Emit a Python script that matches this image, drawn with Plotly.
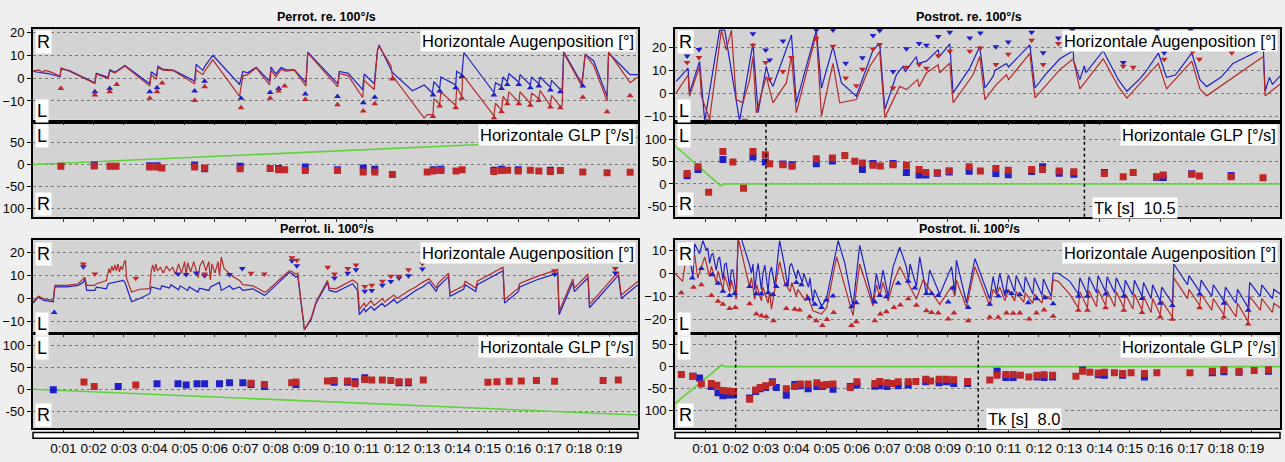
import plotly.graph_objects as go

W, H = 1285, 462
FONT = "Arial, Liberation Sans, sans-serif"
BLUE = "#2020c8"
RED = "#c02828"
RED_LINE = "#b52a2a"
GREEN = "#5fd23a"

TITLES = ["Perrot. re. 100°/s", "Postrot. re. 100°/s", "Perrot. li. 100°/s", "Postrot. li. 100°/s"]
EYE_LABEL = "Horizontale Augenposition [°]"
GLP_LABEL = "Horizontale GLP [°/s]"
TIME_TICKS = list(range(1, 20))
TIME_LABELS = ["0:%02d" % s for s in TIME_TICKS]

# ---------------- Perrot. re. ----------------
PRE_RE_EYE_BLUE = [[0.0,2.9],[0.3,2.4],[0.5,2.0],[0.89,0.6],[0.93,4.0],[1.2,3.3],[2.04,-2.0],[2.09,2.1],[2.48,0.3],[2.53,3.6],[2.70,2.6],[3.03,5.5],[3.85,-2.5],[3.90,2.8],[4.07,1.0],[4.12,5.2],[4.29,3.8],[4.62,3.5],[5.33,-1.3],[5.38,6.0],[5.60,3.4],[5.66,5.0],[5.93,10.0],[6.81,-2.8],[6.92,2.9],[7.08,2.3],[7.36,4.7],[7.80,-1.4],[7.85,4.8],[8.01,1.8],[8.18,4.6],[8.34,3.6],[8.62,3.6],[9.00,-2.0],[9.06,11.4],[10.05,-2.5],[10.10,2.9],[10.40,2.1],[10.87,-5.0],[10.92,1.8],[11.25,-2.5],[11.36,12.0],[11.41,14.5],[11.85,2.5],[12.51,-5.5],[12.9,-3.0],[13.17,-6.5],[13.22,-1.5],[13.41,-4.5],[13.45,0.5],[13.94,-3.0],[13.97,3.0],[14.14,1.5],[14.21,11.2],[15.2,-6.3],[15.25,-2.0],[15.45,-3.5],[15.5,0.5],[15.64,-1.5],[15.69,2.0],[16.02,-1.8],[16.06,1.5],[16.4,-3.0],[16.44,0.5],[16.68,-2.5],[16.72,0.5],[17.06,-4.0],[17.1,-1.0],[17.39,-5.0],[17.45,-4.5],[17.5,11.5],[18.1,-2.5],[18.21,10.5],[18.49,7.5],[18.93,-8.0],[18.98,11.0],[19.69,1.5],[19.95,1.5]]
PRE_RE_EYE_RED = [[0.0,3.2],[0.2,3.6],[0.3,2.5],[0.4,3.4],[0.6,2.6],[0.89,0.8],[0.93,4.5],[1.2,3.0],[2.04,-2.4],[2.09,1.8],[2.48,-0.2],[2.53,3.2],[2.70,2.2],[3.03,5.3],[3.85,-3.5],[3.90,1.5],[4.07,-0.5],[4.12,4.5],[4.29,3.5],[4.62,3.3],[5.33,-2.5],[5.38,3.5],[5.60,1.5],[5.66,3.0],[5.93,8.0],[6.81,-8.0],[6.92,1.0],[7.08,1.5],[7.36,4.5],[7.80,-3.0],[7.85,3.5],[8.01,0.5],[8.18,3.8],[8.34,3.0],[8.62,3.5],[9.00,-3.5],[9.06,11.0],[10.05,-3.8],[10.10,2.0],[10.40,1.0],[10.87,-8.5],[10.92,-1.0],[11.25,-5.0],[11.36,12.0],[11.41,14.0],[11.75,7.0],[11.8,5.5],[11.85,1.0],[12.9,-17.5],[13.0,-16.0],[13.19,-16.0],[13.22,-9.0],[13.41,-11.5],[13.45,-6.0],[13.94,-12.0],[13.97,-4.0],[14.14,-8.0],[14.17,1.4],[15.2,-16.5],[15.25,-11.0],[15.45,-14.0],[15.5,-8.0],[15.64,-10.5],[15.69,-6.0],[16.02,-10.5],[16.06,-6.0],[16.4,-11.0],[16.44,-6.5],[16.68,-9.0],[16.72,-5.5],[17.06,-12.0],[17.1,-7.5],[17.39,-12.5],[17.45,-12.0],[17.5,11.0],[18.1,-3.5],[18.21,10.5],[18.49,5.5],[18.93,-10.0],[18.98,11.5],[19.69,-2.0],[19.95,0.5]]
PRE_RE_TRI_BLUE = [[2.04,-6.0],[2.53,-4.6],[3.85,-6.0],[4.09,-4.2],[5.33,-5.6],[5.66,-1.4],[6.86,-8.8],[7.82,-6.3],[8.1,-4.6],[8.98,-7.0],[10.04,-8.0],[10.89,-10.8],[11.27,-8.4],[13.19,-7.4],[13.41,-5.6],[13.94,-4.2],[14.14,0.7],[15.2,-7.4],[15.45,-4.6],[15.64,-2.8],[16.02,-2.8],[16.4,-4.2],[16.68,-3.5],[17.06,-5.2],[17.39,-6.0],[18.13,-3.5]]
PRE_RE_TRI_RED = [[0.92,-4.6],[2.04,-7.4],[2.53,-6.0],[2.76,-2.8],[3.85,-8.8],[4.09,-6.0],[4.26,-2.1],[5.33,-9.8],[5.66,-3.8],[6.86,-13.0],[7.82,-8.8],[8.1,-5.6],[8.3,-3.5],[8.98,-9.4],[10.04,-11.7],[10.89,-14.4],[11.27,-11.2],[11.85,-0.4],[13.19,-16.8],[13.41,-12.2],[13.94,-13.0],[14.14,-8.8],[15.2,-17.5],[15.45,-14.7],[15.64,-11.2],[16.02,-11.2],[16.4,-11.9],[16.68,-9.8],[17.06,-12.6],[17.39,-13.0],[18.13,-8.4],[18.93,-14.7],[19.69,-7.7]]
PRE_RE_GLP_BLUE = [[2.02,0],[3.85,-2],[4.09,-2],[5.33,0],[5.66,-9],[6.83,-3],[8.1,-8],[8.98,-5],[10.04,-11],[10.89,-7],[11.27,-10],[13.2,-11],[13.45,-10],[15.2,-12],[15.45,-10],[16.0,-11],[17.06,-12]]
PRE_RE_GLP_RED = [[0.92,-3],[2.02,-2.3],[2.54,-3],[2.74,-3],[3.85,-4.7],[4.09,-5],[4.25,-7],[5.33,-5],[5.66,-7],[6.83,-9],[7.82,-8],[8.1,-11],[8.3,-11],[8.98,-13],[10.04,-13],[10.89,-16],[11.27,-16],[11.85,-22],[13.0,-16],[13.2,-14],[13.45,-13],[13.95,-14],[14.15,-11],[15.2,-15],[15.45,-13],[15.65,-12],[16.0,-14],[16.4,-12],[16.68,-14],[17.06,-15],[17.39,-13],[18.13,-16],[18.93,-18],[19.69,-17]]
PRE_RE_STIM = [[0, 1], [20, 62]]

# ---------------- Postrot. re. ----------------
POST_RE_EYE_BLUE = [[0.04,5.3],[0.43,11],[0.48,0.3],[0.81,13.9],[0.98,-11.9],[1.47,27.4],[1.64,27.4],[2.13,-11.9],[2.57,21.7],[2.74,-8.3],[3.01,11.7],[3.12,6],[3.23,3.1],[3.84,25.3],[4.0,-4],[4.66,27.4],[4.83,2.4],[5.21,20.3],[5.49,4.6],[5.98,-1.1],[6.53,18.9],[6.75,21.7],[6.92,-6.9],[7.30,8.1],[7.52,11.7],[7.6,9.5],[7.96,16],[8.0,13],[8.29,14],[8.68,19],[8.72,16],[9.06,21.5],[9.17,0.3],[9.72,11],[10.05,20.3],[10.22,2.4],[10.49,7.4],[10.55,10],[10.93,13],[11.0,11.5],[11.70,21],[11.87,2.4],[12.2,8],[12.69,15],[13.13,18.5],[13.15,14],[13.35,6],[13.5,12],[13.55,9],[14.12,18.5],[14.62,6],[14.9,1],[15.3,6],[15.5,9],[15.94,17.5],[16.21,7],[16.5,8],[17.04,17.5],[17.31,6],[17.53,3],[18.0,7],[18.4,13],[19.4,19.5],[19.46,1],[19.6,7],[19.7,4],[19.95,7.5]]
POST_RE_EYE_RED = [[0.04,0.3],[0.43,8],[0.48,-1.1],[0.81,11.7],[0.87,-1.1],[1.14,-11],[1.53,27.4],[1.69,18.9],[1.86,27.4],[2.02,-2.6],[2.24,-4],[2.46,6],[2.57,16],[2.68,-8.3],[3.01,7.4],[3.23,-4],[3.67,4.6],[3.84,16],[4.0,-8.3],[4.66,26],[4.83,-9.7],[5.21,13],[5.43,-4],[5.98,-2.6],[6.42,11.7],[6.75,18.2],[6.92,-10.4],[7.41,3.1],[7.63,1.7],[8.0,6],[8.05,3],[8.29,8.9],[8.68,12.4],[8.72,9],[9.06,13.1],[9.17,-4],[9.83,8.1],[10.05,16],[10.22,-2.6],[10.6,4],[10.93,8.1],[11.0,6],[11.70,17.4],[11.87,-1.9],[12.69,10.3],[13.13,15],[13.35,2],[14.12,15],[14.62,3],[14.9,-2],[15.94,13],[16.21,2],[17.04,14],[17.31,2],[17.53,-1],[19.4,16],[19.46,-1],[19.95,4]]
POST_RE_TRI_BLUE = [[0.40,16.2],[0.79,19],[2.57,25.8],[2.99,18.8],[3.12,14.5],[3.56,22.7],[4.66,27.5],[5.21,27.5],[5.63,13.1],[6.18,15.5],[6.53,25.1],[6.75,27.2],[7.19,9.5],[7.63,19.4],[8.05,21.6],[8.29,20.9],[8.68,24.7],[9.06,26.5],[9.72,24],[10.07,26.2],[10.58,20.2],[10.99,22.3],[11.76,26.5],[12.14,17.6],[12.64,24],[13.1,27.5],[14.78,13.4],[15.9,27.5],[16.13,17.6],[17.0,27.5]]
POST_RE_TRI_RED = [[0.40,13.4],[0.79,15.6],[1.09,-11.5],[2.3,-11.5],[2.57,20.9],[2.99,13.4],[3.12,6.3],[3.56,9.5],[3.84,15.6],[4.66,23.7],[5.21,20.4],[5.63,6.7],[5.98,3.4],[6.18,10.5],[6.53,19.2],[6.75,21.2],[7.19,2.4],[7.63,11.4],[8.05,12.6],[8.29,10.9],[8.68,16.3],[9.06,18.3],[9.72,18.3],[10.07,19.7],[10.58,12.6],[10.99,17],[11.76,23],[12.14,12.6],[12.64,21.6],[14.78,11.8],[15.11,11.4],[16.13,14.8],[17.07,18],[17.29,14.8],[18.36,17.6]]
POST_RE_GLP_BLUE = [[0.40,18.6],[0.76,32.7],[1.58,55.3],[2.57,60.5],[2.98,49.5],[3.56,45],[3.86,43],[4.66,45.7],[5.19,52],[6.18,32.7],[6.53,46],[7.19,46],[7.63,25.8],[8.05,20],[8.27,20],[8.65,24],[9.04,27],[9.7,28.8],[10.58,23.4],[10.99,21],[11.76,28],[12.12,38.6],[12.67,24],[13.15,22],[14.16,26],[15.88,15],[16.1,14.8],[17.04,23],[18.34,19]]
POST_RE_GLP_RED = [[0.40,23.7],[0.76,38.6],[1.11,-18.5],[1.58,73],[1.91,49.6],[2.26,-9.6],[2.57,73],[2.98,65.6],[3.12,45.7],[3.56,43.4],[3.86,39.8],[4.66,56.8],[5.19,58.3],[5.6,64.2],[5.93,50.9],[6.18,47.2],[6.53,42],[6.77,40.5],[7.19,43.4],[7.63,42],[8.05,32.7],[8.27,26],[8.65,25],[9.04,29.5],[9.7,38.6],[10.07,29],[10.58,35],[10.99,31],[11.76,32.7],[12.12,32.7],[12.67,29],[13.15,27.3],[14.16,23.7],[14.78,16.4],[15.11,26],[15.88,16.4],[16.1,20],[17.04,21.6],[17.29,18],[18.34,16.4],[19.39,14.2]]
POST_RE_STIM = [[0, 86], [1.5, -4], [1.6, 0], [20, 0]]
POST_RE_TK = [3.0, 13.5]
POST_RE_TK_TEXT = "10.5"

# ---------------- Perrot. li. ----------------
PRE_LI_EYE_BLUE = [[0.0,-2.1],[0.18,0.7],[0.34,-0.7],[0.67,-1.4],[0.72,5.0],[1.11,5.0],[1.49,5.7],[1.66,7.0],[1.71,8.5],[1.77,3.5],[2.04,3.5],[2.09,4.9],[2.42,4.2],[2.48,6.4],[2.97,7.8],[3.03,7.1],[3.25,-1.4],[3.52,0.0],[3.85,2.1],[3.90,5.0],[4.2,4.0],[4.25,5.5],[4.5,4.5],[4.55,6.0],[4.8,3.8],[4.85,5.5],[5.1,3.5],[5.15,5.0],[5.44,2.8],[5.49,4.5],[5.8,3.5],[5.85,5.0],[6.15,7.0],[6.21,3.5],[6.48,5.5],[6.59,4.0],[6.81,5.0],[6.92,3.5],[7.25,4.2],[7.63,1.4],[7.69,1.8],[8.45,11.3],[8.56,10.6],[8.67,9.2],[8.73,9.9],[8.95,-13.5],[9.17,-9.2],[9.33,-2.1],[9.71,7.0],[9.77,3.5],[9.99,2.8],[10.32,5.0],[10.54,6.4],[10.70,3.5],[10.76,-7.0],[10.92,-4.3],[10.97,-5.7],[11.14,-3.5],[11.25,-5.0],[11.52,-2.1],[11.6,-3.5],[11.9,-0.5],[12.0,-2],[12.40,1.4],[12.62,3.5],[12.84,5.0],[13.06,7.1],[13.3,3],[13.35,5],[13.7,9.5],[13.75,1],[14.2,4],[14.25,6],[14.6,3],[14.65,6],[15.5,12],[15.55,-2],[16.0,3],[16.05,5],[16.6,8],[17.3,11],[17.35,-7],[17.8,7],[17.85,3],[18.3,9],[18.35,-4],[19.3,10],[19.4,0],[19.95,6]]
PRE_LI_EYE_RED = [[0.0,-1.5],[0.18,1.0],[0.34,0.0],[0.67,-0.8],[0.72,5.7],[1.11,5.7],[1.49,6.4],[1.66,8.5],[1.71,9.2],[1.77,5.7],[2.04,5.7],[2.09,6.4],[2.42,7.8],[2.48,11.5],[2.5,13],[2.55,11],[2.6,14],[2.65,12],[2.7,14.5],[2.75,12],[2.8,15],[2.85,11.5],[2.9,14],[2.95,12.5],[3.0,15.5],[3.05,16.5],[3.08,9],[3.25,2.8],[3.52,4],[3.85,4.3],[3.90,12],[3.95,14.5],[4.0,11.5],[4.05,15],[4.1,12],[4.2,13.5],[4.3,11],[4.4,14],[4.5,12],[4.6,13.5],[4.7,10.5],[4.8,15],[4.9,11],[5.0,16],[5.05,10],[5.1,15.5],[5.2,11.5],[5.3,16],[5.4,12],[5.45,9],[5.5,14],[5.6,16.5],[5.7,12],[5.8,16],[5.85,8],[5.9,15],[6.0,11],[6.1,16],[6.15,10],[6.21,18],[6.3,13],[6.48,11],[6.59,9.5],[6.81,7.8],[6.92,6],[7.25,5.5],[7.63,2.8],[7.69,3],[8.45,12],[8.56,11.5],[8.67,10.5],[8.73,11],[8.95,-13.5],[9.17,-8.5],[9.33,-1.5],[9.71,7.8],[9.77,4.5],[9.99,4.2],[10.32,6.5],[10.54,8.0],[10.70,6.5],[10.76,-4.8],[10.92,-2],[10.97,-3.5],[11.14,-1],[11.25,-3],[11.52,0],[11.6,-1.5],[11.9,1.5],[12.0,0],[12.40,3.5],[12.62,5],[12.84,7],[13.06,8.5],[13.3,4.5],[13.35,6.5],[13.7,11],[13.75,2.5],[14.2,5.5],[14.25,7.5],[14.6,4.5],[14.65,7.5],[15.5,13.5],[15.55,-0.5],[16.0,4.5],[16.05,6.5],[16.6,9.5],[17.3,12.5],[17.35,-5.5],[17.8,8.5],[17.85,4.5],[18.3,10.5],[18.35,-2.5],[19.3,11.5],[19.4,1.5],[19.95,7.5]]
PRE_LI_TRI_BLUE = [[1.66,13.8],[4.78,10.6],[5.05,10.4],[5.38,11.1],[5.66,9.9],[6.48,10.4],[6.9,13],[8.54,16.3],[8.7,14.2],[9.94,8.9],[10.38,10.9],[10.65,12.5],[10.94,3.1],[11.17,3.5],[11.52,5.7],[11.8,7.4],[12.07,8.9],[12.38,9.9],[12.84,12.8],[17.2,10.5],[19.2,11]]
PRE_LI_TRI_RED = [[1.66,14.9],[2.04,10.6],[3.39,8.8],[5.66,10.6],[7.19,10.9],[7.63,10.6],[8.54,17.7],[8.7,16.6],[9.72,13.5],[9.94,10.6],[10.38,13],[10.65,14.5],[10.94,5.2],[11.17,5.7],[11.52,7.5],[11.8,9.6],[12.07,9.6],[12.38,12.5],[12.84,15.2],[15.0,17],[15.5,17],[17.2,12],[19.2,13]]
PRE_LI_TRI_UP_BLUE = [[0.7,-6.1]]
PRE_LI_GLP_BLUE = [[0.67,-1.5],[2.81,6],[4.09,12.7],[4.78,12.7],[5.05,9.7],[5.41,12.7],[5.66,12.7],[6.15,12.7],[6.48,15],[6.92,15],[7.19,11],[7.63,6],[8.67,11],[9.93,16],[10.37,16],[10.62,17],[10.94,26],[12.07,15],[12.38,15]]
PRE_LI_GLP_RED = [[1.68,16.4],[2.02,6],[3.39,9.7],[7.19,13.4],[7.63,11],[8.53,15],[8.67,16.4],[9.71,18.7],[9.93,20],[10.37,18.7],[10.62,12.7],[10.94,22],[11.17,21],[11.52,21],[11.8,20],[12.07,17],[12.38,17],[12.87,21],[15.0,16],[15.3,17],[15.7,18],[16.1,19],[16.6,20],[17.2,18],[18.8,20],[19.3,21]]
PRE_LI_STIM = [[0, 0], [20, -59]]

# ---------------- Postrot. li. ----------------
POST_LI_EYE_BLUE = [[0.48,6.4],[0.59,-1.4],[0.65,12.8],[0.81,8.5],[0.92,14.2],[1.03,9.9],[1.08,11],[1.14,4.3],[1.2,8],[1.25,8.5],[1.36,1.4],[1.42,6],[1.47,7.1],[1.58,-2.8],[1.64,4],[1.69,4.3],[1.80,-5.7],[1.86,1.4],[1.91,1.4],[2.02,-9.2],[2.08,14.9],[2.19,14.9],[2.46,3.5],[2.52,0],[2.57,4],[2.63,-7.1],[2.69,0],[2.74,4.3],[2.85,-7.1],[2.9,0],[2.96,3.5],[3.07,-7.8],[3.12,0],[3.18,2.8],[3.29,-5.7],[3.45,14.2],[3.62,2.8],[3.67,-2],[3.73,-5],[3.78,3],[3.84,4.3],[4.0,-2.5],[4.05,1.5],[4.2,-4],[4.25,0],[4.4,-6],[4.45,-2],[4.55,-12.8],[4.6,-7],[4.83,-14.2],[4.99,-11.3],[5.38,14.2],[5.60,4.3],[5.87,-14.2],[6.09,12.1],[6.53,-12.8],[6.64,0],[6.75,-7.1],[6.86,1.4],[7.03,-9.9],[7.19,2.8],[7.41,11.3],[7.63,2.8],[7.7,-3],[7.75,4],[7.96,-5.7],[8.07,7.1],[8.29,-9.2],[8.40,1.4],[8.73,-9.2],[9.12,2.8],[9.23,-8.5],[9.28,5.7],[9.61,-12.8],[9.89,6.4],[10.38,-11.3],[10.49,-1.4],[10.60,-8.5],[10.71,0],[10.88,-9.9],[10.99,-0.7],[11.2,-8],[11.25,-1],[11.5,-8.5],[11.55,-1.5],[11.8,-9],[11.85,-2],[12.1,-9.5],[12.15,-2.5],[12.4,-10],[12.47,0],[12.64,0],[13.02,-3.5],[13.3,-9],[13.35,-2],[13.6,-9],[13.65,-1.5],[13.9,-8.5],[13.95,-1],[14.2,-8],[14.25,-1.5],[14.5,-8.5],[14.55,-2],[14.8,-9],[14.85,-3],[15.1,-9.5],[15.15,-3],[15.4,-10],[15.45,-4],[15.7,-11],[15.75,-5],[16.0,-12],[16.05,-6],[16.4,-13],[16.45,4],[16.9,-5],[16.95,-1],[17.3,-8],[17.35,-3],[17.7,-10],[17.75,-5],[18.1,-12],[18.15,-6],[18.5,-13],[18.55,-7],[18.9,-15],[18.95,-4],[19.3,-10],[19.35,-5],[19.7,-11],[19.75,-7],[19.95,-9]]
POST_LI_EYE_RED = [[0.0,0],[0.25,-3.5],[0.35,5.7],[0.48,4.3],[0.65,7.8],[0.75,-2.1],[0.98,7.1],[1.14,-1.4],[1.2,3],[1.36,-4],[1.42,1],[1.58,-7.1],[1.64,-1],[1.8,-8],[1.86,-3],[2.02,-11.3],[2.08,14.9],[2.13,12.8],[2.35,0],[2.46,-5.7],[2.52,-2],[2.63,-11.3],[2.69,-5],[2.85,-12],[2.9,-6],[3.07,-13],[3.12,-8],[3.18,-15.6],[3.45,5],[3.62,-4.3],[3.8,-8],[3.85,-4],[4.0,-10],[4.05,-7],[4.3,-12],[4.35,-9],[4.55,-16.3],[4.83,-17.7],[5.0,-15],[5.33,7.1],[5.87,-18.4],[6.09,4],[6.53,-14.2],[6.64,-5],[6.75,-10],[6.86,-4],[7.03,-12],[7.19,-4.3],[7.41,2.8],[7.96,-11.3],[8.18,-2.8],[8.73,-13.5],[9.12,-5.7],[9.23,-10],[9.28,-3],[9.61,-14.9],[9.89,2.8],[10.38,-14.2],[10.49,-7],[10.60,-9.2],[10.71,-6],[10.88,-12],[10.99,-7],[11.2,-12],[11.25,-8],[11.5,-12.5],[11.55,-8.5],[11.8,-13],[11.85,-9],[12.1,-13],[12.15,-9.5],[12.4,-11.3],[12.47,-2.8],[12.64,-3.5],[13.02,-9.2],[13.3,-15],[13.35,-8],[13.6,-15],[13.65,-7.5],[13.9,-14.5],[13.95,-7],[14.2,-14],[14.25,-7.5],[14.5,-14.5],[14.55,-8],[14.8,-15],[14.85,-9],[15.1,-15.5],[15.15,-9],[15.4,-16],[15.45,-10],[15.7,-17],[15.75,-11],[16.0,-18],[16.05,-12],[16.4,-19],[16.45,-2],[16.9,-11],[16.95,-7],[17.3,-14],[17.35,-9],[17.7,-16],[17.75,-11],[18.1,-18],[18.15,-12],[18.5,-19],[18.55,-13],[18.9,-21],[18.95,-10],[19.3,-16],[19.35,-11],[19.7,-17],[19.75,-13],[19.95,-15]]
POST_LI_TRI_BLUE = [[0.57,-2.1],[0.87,2.1],[1.23,-0.7],[1.42,-4.3],[1.58,-7.8],[1.80,-9.6],[1.97,-8.8],[2.46,-5.7],[2.68,-8.9],[2.85,-8.9],[3.07,-8.5],[3.23,-9.2],[3.34,-5.7],[3.67,-5.0],[4.0,-4.0],[4.17,-5.0],[4.39,-11.1],[4.61,-13.5],[4.83,-14.9],[4.99,-11.6],[5.21,-9.9],[5.82,-14.5],[5.98,-12.8],[6.59,-12.5],[6.75,-9.6],[6.97,-10.2],[7.36,-4.3],[7.69,-3.5],[7.91,-6.4],[8.29,-8.8],[8.46,-8.8],[8.68,-9.6],[9.01,-12.5],[9.17,-6.4],[9.67,-14.9],[10.38,-13.5],[10.66,-9.9],[10.93,-7.8],[11.1,-8.8],[11.37,-9.2],[11.65,-12.8],[11.92,-11.1],[12.2,-10.6],[12.47,-13.2],[13.3,-10],[13.6,-10],[14.2,-9],[14.8,-10],[15.4,-11],[16.0,-13],[16.4,-14],[17.3,-9],[18.1,-13],[18.9,-16]]
POST_LI_TRI_RED = [[0.21,-8.5],[0.61,-6.1],[0.87,-5.0],[1.2,-9.6],[1.42,-12.1],[1.58,-13.5],[1.80,-15.3],[1.99,-14.9],[2.46,-13.2],[2.68,-17.7],[2.85,-18.4],[3.01,-18.9],[3.25,-20.6],[3.67,-15.3],[3.95,-15.6],[4.11,-15.9],[4.44,-18.9],[4.66,-20.6],[4.86,-22.7],[5.01,-20.1],[5.23,-17.0],[5.82,-22.7],[5.98,-21.0],[6.59,-20.6],[6.77,-17.7],[6.97,-16.7],[7.22,-14.9],[7.43,-13.8],[7.69,-11.1],[7.96,-13.9],[8.29,-16.3],[8.46,-17.0],[8.68,-17.3],[9.01,-19.9],[9.20,-17.3],[9.67,-20.6],[10.38,-19.1],[10.66,-19.1],[10.93,-17.3],[11.15,-17.4],[11.37,-17.3],[11.68,-19.9],[11.92,-17.3],[12.17,-15.9],[12.47,-18.7],[13.3,-16],[13.6,-16],[14.2,-15],[14.8,-16],[15.4,-17],[16.0,-19],[16.4,-20],[17.3,-15],[18.1,-19],[18.9,-22]]
POST_LI_GLP_BLUE = [[0.59,-22],[0.81,-26],[1.2,-46],[1.42,-60],[1.58,-67],[1.75,-65],[1.93,-65],[2.46,-72],[2.66,-57],[2.81,-51],[2.99,-48],[3.21,-35],[3.34,-48],[3.67,-66],[3.95,-41],[4.13,-44],[4.39,-51],[4.68,-46],[4.86,-46],[5.21,-52],[5.78,-46],[6.0,-42],[6.59,-45],[6.75,-44],[6.99,-46],[7.36,-44],[7.69,-42],[8.27,-35],[8.71,-37],[8.95,-35],[9.19,-39],[9.65,-39],[10.62,-11],[10.91,-25],[11.15,-25],[11.94,-24],[12.17,-25],[12.45,-24],[13.44,-8],[13.96,-19],[14.16,-20],[14.76,-20],[15.48,-24],[17.72,-14],[18.1,-12],[18.6,-13],[19.57,-11]]
POST_LI_GLP_RED = [[0.21,-18],[0.59,-22],[0.87,-40],[1.2,-39],[1.38,-43],[1.58,-55],[1.75,-56],[1.93,-57],[2.46,-75],[2.66,-54],[2.81,-48],[2.99,-44],[3.21,-37],[3.67,-51],[3.95,-46],[4.13,-40],[4.39,-40],[4.68,-37],[4.86,-43],[5.01,-41],[5.21,-40],[5.78,-48],[6.0,-35],[6.59,-39],[6.75,-34],[6.99,-37],[7.17,-39],[7.36,-35],[7.69,-35],[7.94,-34],[8.27,-29],[8.43,-33],[8.71,-29],[8.95,-29],[9.19,-30],[9.65,-34],[10.38,-31],[10.62,-20],[10.91,-18],[11.15,-18],[11.39,-20],[11.67,-24],[11.94,-20],[12.17,-19],[12.45,-20],[13.22,-22],[13.44,-11],[13.68,-13],[13.96,-15],[14.16,-13],[14.49,-14],[14.76,-16],[15.04,-14],[15.48,-16],[15.89,-14],[16.98,-14],[17.72,-11],[18.1,-7],[18.6,-11],[19.1,-9],[19.57,-7]]
POST_LI_STIM = [[0, -85], [1.55, 4], [1.65, 0], [20, 0]]
POST_LI_TK = [2.0, 10.0]
POST_LI_TK_TEXT = "8.0"

# ---------------- layout geometry (pixels) ----------------
COLS = [(33, 638), (675, 1280)]
ROW_EYE = [(25, 118), (241, 335)]
ROW_GLP = [(122, 217), (338, 432)]
BAR = (437, 443)

EYE_RANGES = [[-18.2, 21.7], [-11.3, 28.1], [-14.7, 25.2], [-25.7, 14.3]]
EYE_TICKS = [[-10, 0, 10, 20], [-10, 0, 10, 20], [-10, 0, 10, 20], [-20, -10, 0, 10]]
GLP_RANGES = [[-117.8, 93.7], [-74, 136], [-87.6, 122.8], [-140, 71.5]]
GLP_TICKS = [[-100, -50, 0, 50], [-50, 0, 50, 100], [-50, 0, 50, 100], [-100, -50, 0, 50]]


def xd(c):
    return [c[0] / W, c[1] / W]


def yd(r):
    return [1 - r[1] / H, 1 - r[0] / H]


def pts(lst):
    return [p[0] for p in lst], [p[1] for p in lst]


fig = go.Figure()
layout = {}

panels = [
    (0, 0, PRE_RE_EYE_BLUE, PRE_RE_EYE_RED, PRE_RE_TRI_BLUE, PRE_RE_TRI_RED, "triangle-up", PRE_RE_GLP_BLUE, PRE_RE_GLP_RED, PRE_RE_STIM, None),
    (1, 0, POST_RE_EYE_BLUE, POST_RE_EYE_RED, POST_RE_TRI_BLUE, POST_RE_TRI_RED, "triangle-down", POST_RE_GLP_BLUE, POST_RE_GLP_RED, POST_RE_STIM, (POST_RE_TK, POST_RE_TK_TEXT)),
    (0, 1, PRE_LI_EYE_BLUE, PRE_LI_EYE_RED, PRE_LI_TRI_BLUE, PRE_LI_TRI_RED, "triangle-down", PRE_LI_GLP_BLUE, PRE_LI_GLP_RED, PRE_LI_STIM, None),
    (1, 1, POST_LI_EYE_BLUE, POST_LI_EYE_RED, POST_LI_TRI_BLUE, POST_LI_TRI_RED, "triangle-up", POST_LI_GLP_BLUE, POST_LI_GLP_RED, POST_LI_STIM, (POST_LI_TK, POST_LI_TK_TEXT)),
]

annotations = []
shapes = []


def ann(text, px, py, xanchor="left", size=16.5, bold=False, bg="white"):
    annotations.append(dict(
        text=("<b>%s</b>" % text) if bold else text,
        x=px / W, y=1 - py / H, xref="paper", yref="paper",
        xanchor=xanchor, yanchor="middle", showarrow=False,
        font=dict(size=size, color="black", family=FONT),
        bgcolor=bg, borderpad=1))


axis_common_x = dict(range=[0, 19.95], showgrid=False, zeroline=False, showline=True, mirror=True,
                     linecolor="black", linewidth=2, ticks="outside", ticklen=3, tickwidth=1,
                     tickcolor="#333", tickvals=TIME_TICKS, showticklabels=False, fixedrange=True)
axis_common_y = dict(showgrid=True, gridcolor="#7a7a7a", gridwidth=1, griddash="3px,3px",
                     zeroline=False, showline=True, mirror=True, linecolor="black", linewidth=2,
                     ticks="outside", ticklen=4, tickcolor="black",
                     tickfont=dict(size=13, family=FONT, color="black"), fixedrange=True)

idx = 0
for pi, (col, row, eb, er, tb, tr, tsym, gb, gr, stim, tk) in enumerate(panels):
    for kind in ("eye", "glp"):
        idx += 1
        xa = "x" if idx == 1 else "x%d" % idx
        ya = "y" if idx == 1 else "y%d" % idx
        rrow = ROW_EYE[row] if kind == "eye" else ROW_GLP[row]
        xk = "xaxis" if idx == 1 else "xaxis%d" % idx
        yk = "yaxis" if idx == 1 else "yaxis%d" % idx
        layout[xk] = dict(axis_common_x, domain=xd(COLS[col]), anchor=ya)
        top, bot = rrow
        cl, cr = COLS[col]
        if kind == "eye":
            layout[yk] = dict(axis_common_y, domain=yd(rrow), anchor=xa, range=EYE_RANGES[pi],
                              tickvals=EYE_TICKS[pi])
            x, y = pts(eb)
            fig.add_trace(go.Scatter(x=x, y=y, mode="lines", line=dict(color=BLUE, width=1.2),
                                     xaxis=xa, yaxis=ya, showlegend=False, hoverinfo="skip"))
            x, y = pts(er)
            fig.add_trace(go.Scatter(x=x, y=y, mode="lines", line=dict(color=RED_LINE, width=1.2),
                                     xaxis=xa, yaxis=ya, showlegend=False, hoverinfo="skip"))
            if pi == 2:
                x, y = pts(PRE_LI_TRI_UP_BLUE)
                fig.add_trace(go.Scatter(x=x, y=y, mode="markers",
                                         marker=dict(symbol="triangle-up", size=6, color=BLUE),
                                         xaxis=xa, yaxis=ya, showlegend=False, hoverinfo="skip"))
            x, y = pts(tb)
            fig.add_trace(go.Scatter(x=x, y=y, mode="markers",
                                     marker=dict(symbol=tsym, size=6, color=BLUE),
                                     xaxis=xa, yaxis=ya, showlegend=False, hoverinfo="skip"))
            x, y = pts(tr)
            fig.add_trace(go.Scatter(x=x, y=y, mode="markers",
                                     marker=dict(symbol=tsym, size=6, color=RED),
                                     xaxis=xa, yaxis=ya, showlegend=False, hoverinfo="skip"))
            ann(EYE_LABEL, cr - 2, top + 13, xanchor="right")
            ann("R", cl + 2, top + 14, size=18)
            ann("L", cl + 2, bot - 9, size=18)
        else:
            glp_text = ["100" if v == -100 else str(v) for v in GLP_TICKS[pi]]
            layout[yk] = dict(axis_common_y, domain=yd(rrow), anchor=xa, range=GLP_RANGES[pi],
                              tickvals=GLP_TICKS[pi], ticktext=glp_text)
            x, y = pts(stim)
            fig.add_trace(go.Scatter(x=x, y=y, mode="lines", line=dict(color=GREEN, width=1.6),
                                     xaxis=xa, yaxis=ya, showlegend=False, hoverinfo="skip"))
            x, y = pts(gb)
            fig.add_trace(go.Scatter(x=x, y=y, mode="markers",
                                     marker=dict(symbol="square", size=7, color=BLUE),
                                     xaxis=xa, yaxis=ya, showlegend=False, hoverinfo="skip"))
            x, y = pts(gr)
            fig.add_trace(go.Scatter(x=x, y=y, mode="markers",
                                     marker=dict(symbol="square", size=7, color=RED),
                                     xaxis=xa, yaxis=ya, showlegend=False, hoverinfo="skip"))
            ann(GLP_LABEL, cr - 2, top + 12, xanchor="right")
            ann("L", cl + 2, top + 13, size=18)
            ann("R", cl + 2, bot - 13, size=18)
            if tk is not None:
                tvals, ttext = tk
                for tv in tvals:
                    shapes.append(dict(type="line", xref=xa, yref="%s domain" % ya, x0=tv, x1=tv,
                                       y0=0, y1=1, line=dict(color="black", width=1.5, dash="dot")))
                ann("Tk [s]\u00a0\u00a0" + ttext, cl + (tvals[1] / 19.95) * (cr - cl) + 8, bot - 9,
                    xanchor="left")

# time bars
for col in range(2):
    idx += 1
    xa, ya = "x%d" % idx, "y%d" % idx
    layout["xaxis%d" % idx] = dict(range=[0, 19.95], domain=xd(COLS[col]), anchor=ya, showgrid=False,
                                   zeroline=False, showline=False, ticks="", tickvals=TIME_TICKS,
                                   ticktext=TIME_LABELS, tickfont=dict(size=13.5, family=FONT, color="black"),
                                   fixedrange=True)
    layout["yaxis%d" % idx] = dict(domain=yd(BAR), anchor=xa, showgrid=False, zeroline=False,
                                   showticklabels=False, showline=False, range=[0, 1], fixedrange=True)
    fig.add_trace(go.Scatter(x=[0], y=[-5], mode="markers", marker=dict(size=1, opacity=0),
                             xaxis=xa, yaxis=ya, showlegend=False, hoverinfo="skip"))
    shapes.append(dict(type="rect", xref="paper", yref="paper",
                       x0=COLS[col][0] / W, x1=COLS[col][1] / W, y0=1 - BAR[1] / H, y1=1 - BAR[0] / H,
                       fillcolor="white", line=dict(color="black", width=1.5), layer="above"))

# panel titles
ann(TITLES[0], 326, 13, xanchor="center", size=12.5, bold=True, bg=None)
ann(TITLES[1], 969, 13, xanchor="center", size=12.5, bold=True, bg=None)
ann(TITLES[2], 327, 229, xanchor="center", size=12.5, bold=True, bg=None)
ann(TITLES[3], 969, 229, xanchor="center", size=12.5, bold=True, bg=None)

fig.update_layout(width=W, height=H, autosize=False, margin=dict(l=0, r=0, t=0, b=0),
                  paper_bgcolor="#efefef", plot_bgcolor="#d3d3d3",
                  annotations=annotations, shapes=shapes, showlegend=False, **layout)
fig.write_html("out.html", config={"displayModeBar": False},
               post_script="document.body.style.margin='0px';document.body.style.overflow='hidden';")
